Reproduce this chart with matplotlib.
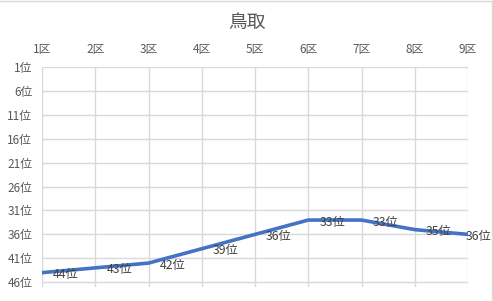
import matplotlib.pyplot as plt
from matplotlib.lines import Line2D

plt.rcParams['font.family'] = ['Noto Sans CJK JP', 'DejaVu Sans']

# --- Data ---
TITLE = "鳥取"
districts = ["1区", "2区", "3区", "4区", "5区", "6区", "7区", "8区", "9区"]
ranks = [44, 43, 42, 39, 36, 33, 33, 35, 36]
rank_ticks = [1, 6, 11, 16, 21, 26, 31, 36, 41, 46]

GRID = "#d9d9d9"
TEXT = "#595959"
LINE = "#4472c4"

fig = plt.figure(figsize=(4.93, 3.01), dpi=100)
ax = fig.add_axes([0.0852, 0.0465, 0.8641, 0.7309])

x = list(range(len(districts)))
ax.plot(x, ranks, color=LINE, linewidth=2.6, solid_capstyle="round", zorder=3)

# data labels to the right of points; the last one is pulled back to stay inside
for xi, r in zip(x, ranks):
    dx = 8 if xi < len(x) - 1 else -2
    ax.annotate(f"{r}位", (xi, r), xytext=(dx, -1.5), textcoords="offset points",
                ha="left", va="center", fontsize=8.8, color="#404040", zorder=4)

# Axes: categories on top, ranks reversed
ax.set_xlim(0, len(districts) - 1)
ax.set_ylim(47, 1)
ax.set_xticks(x)
ax.set_xticklabels(districts)
ax.set_yticks(rank_ticks)
ax.set_yticklabels([f"{t}位" for t in rank_ticks])
ax.xaxis.tick_top()
ax.tick_params(axis="x", length=0, pad=8, labelsize=8.5, labelcolor=TEXT)
ax.tick_params(axis="y", length=0, pad=7, labelsize=8.5, labelcolor=TEXT)

ax.grid(True, color=GRID, linewidth=1)
ax.set_axisbelow(True)
for s in ax.spines.values():
    s.set_visible(False)

fig.text(0.501, 0.925, TITLE, ha="center", va="center", fontsize=13.5, color=TEXT)

# Chart border (top and right visible)
fig.add_artist(Line2D([0, 0.998], [0.998, 0.998], transform=fig.transFigure, color=GRID, linewidth=1))
fig.add_artist(Line2D([0.998, 0.998], [0, 0.998], transform=fig.transFigure, color=GRID, linewidth=1))

fig.savefig("out.png", dpi=100)
plt.close(fig)
